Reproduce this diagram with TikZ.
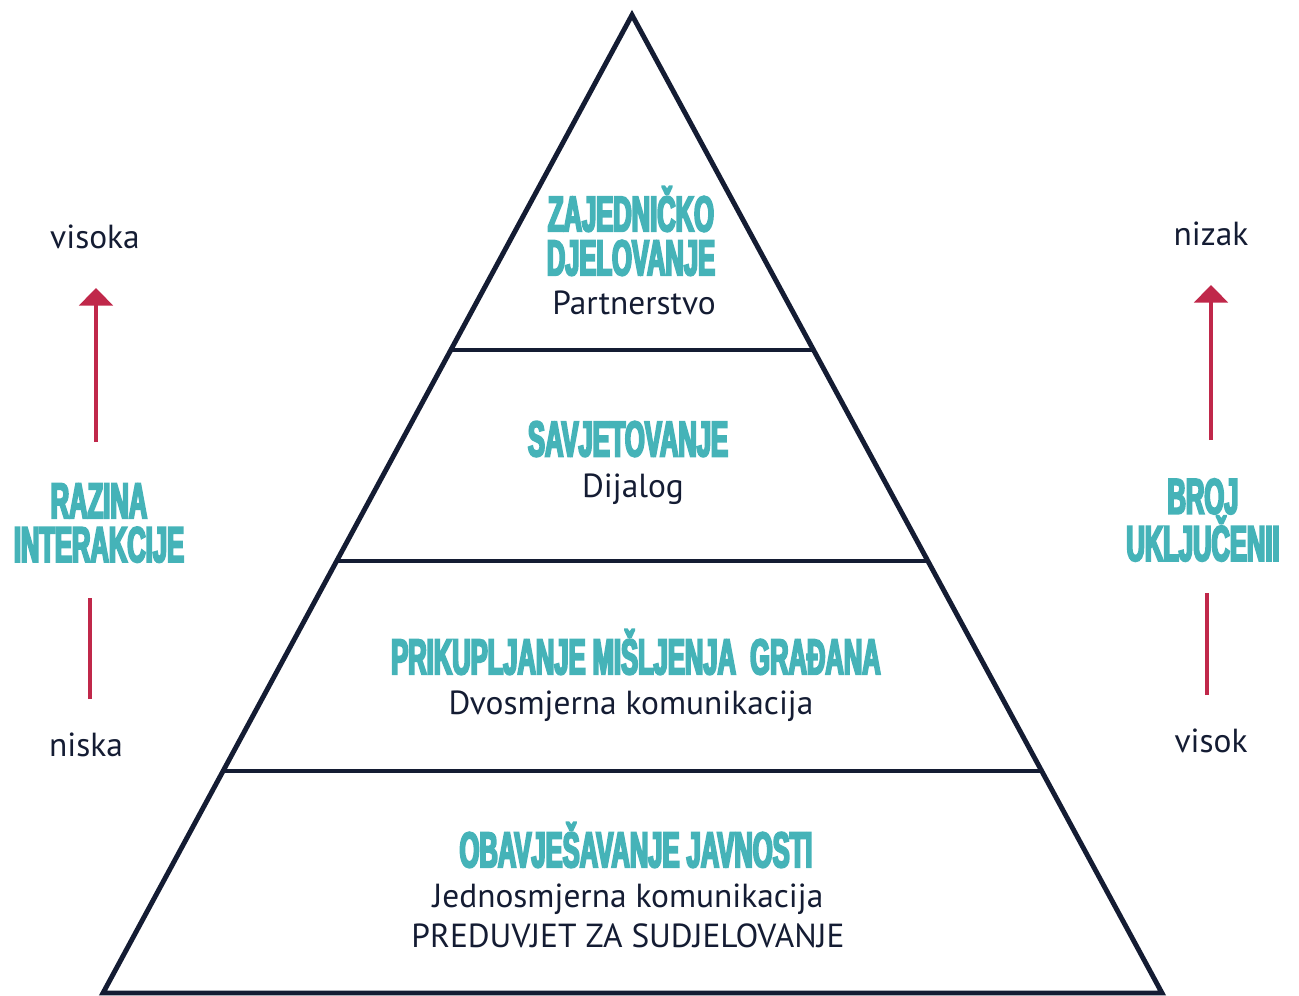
\documentclass[tikz,border=0pt]{standalone}
\usepackage{fontspec}
\setmainfont{PT Sans}
\newfontfamily\headfont[FakeStretch=0.51,FakeBold=4]{Liberation Sans Bold}
\usetikzlibrary{arrows.meta}

\definecolor{tealtext}{RGB}{69,179,184} % headings
\definecolor{arrowred}{RGB}{192,40,74} % arrows
\definecolor{navyline}{RGB}{20,28,51} % pyramid and text

\tikzset{
  level/.style={font=\headfont\fontsize{28.5}{25}\selectfont, text=tealtext, align=center, inner sep=1pt},
  plain/.style={font=\fontsize{19}{22.7}\selectfont, text=navyline, align=center, inner sep=1pt},
  edge/.style={draw=navyline, line width=2.8pt},
  redline/.style={draw=arrowred, line width=2.4pt},
}

\begin{document}
\begin{tikzpicture}[x=0.02cm, y=-0.02cm]
  \useasboundingbox (0,0) rectangle (1299,995);

  % Corners of the pyramid and its layers
  \coordinate (apex) at (632,15);
  \coordinate (bl) at (103,993);
  \coordinate (br) at (1162,993);
  \coordinate (l1) at (451,350);
  \coordinate (r1) at (813,350);
  \coordinate (l2) at (337,561);
  \coordinate (r2) at (928,561);
  \coordinate (l3) at (223,771);
  \coordinate (r3) at (1042,771);

  % Draw the pyramid
  \draw[edge] (apex) -- (br) -- (bl) -- cycle;
  \draw[edge] (l1) -- (r1);
  \draw[edge] (l2) -- (r2);
  \draw[edge] (l3) -- (r3);

  % Top layer
  \node[level] (zaj) at (631,231) {ZAJEDNIČKO\\DJELOVANJE};
  \node[plain] (partner) at (634,303) {Partnerstvo};

  % Second layer
  \node[level] (savj) at (628,439) {SAVJETOVANJE};
  \node[plain] (dijalog) at (633,489) {Dijalog};

  % Third layer
  \node[level] (prik) at (636,652) {PRIKUPLJANJE MIŠLJENJA\ \ GRAĐANA};
  \node[plain] (dvosm) at (631,706) {Dvosmjerna komunikacija};

  % Bottom layer
  \node[level] (obav) at (636,845) {OBAVJEŠAVANJE JAVNOSTI};
  \node[plain] (jedno) at (628,916) {Jednosmjerna komunikacija\\PREDUVJET ZA SUDJELOVANJE};

  % Left scale
  \node[plain] (visoka) at (95,237) {visoka};
  \node[level] (razina) at (99,523) {RAZINA\\INTERAKCIJE};
  \node[plain] (niska) at (86,745) {niska};
  \coordinate (la0) at (96,442);
  \coordinate (la1) at (96,288);
  \coordinate (lb0) at (90,699);
  \coordinate (lb1) at (90,598);
  \draw[redline, -{Triangle[width=19pt,length=10pt]}] (la0) -- (la1);
  \draw[redline] (lb0) -- (lb1);

  % Right scale
  \node[plain] (nizak) at (1211,234) {nizak};
  \node[level] (broj) at (1203,520) {BROJ\\UKLJUČENII};
  \node[plain] (visok) at (1211,741) {visok};
  \coordinate (ra0) at (1211,440);
  \coordinate (ra1) at (1211,285);
  \coordinate (rb0) at (1207,695);
  \coordinate (rb1) at (1207,593);
  \draw[redline, -{Triangle[width=19pt,length=10pt]}] (ra0) -- (ra1);
  \draw[redline] (rb0) -- (rb1);
\end{tikzpicture}
\end{document}
